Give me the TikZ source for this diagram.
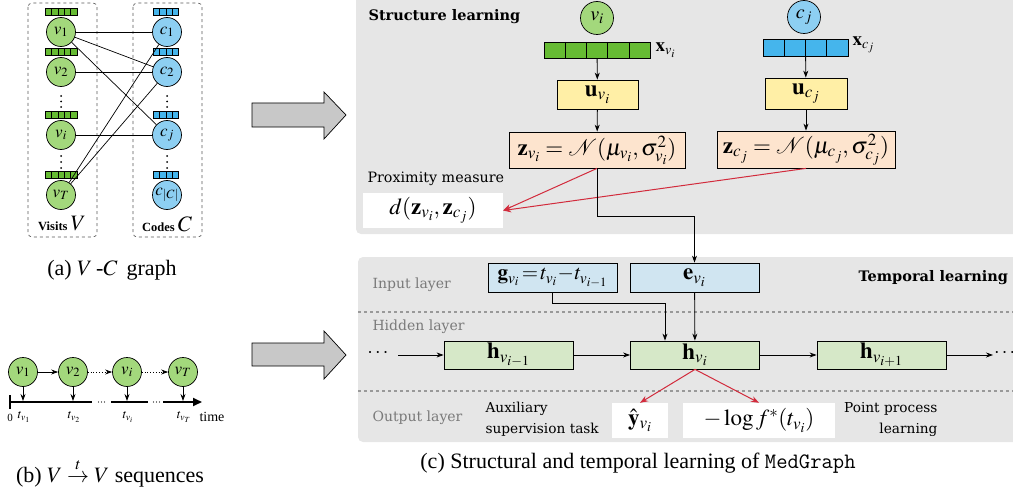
\documentclass[tikz,border=0pt]{standalone}
\usepackage{mathptmx}
\usepackage{fontspec}
\setmainfont{Liberation Serif}
\newfontfamily\dvs{DejaVu Serif}
\usetikzlibrary{arrows.meta}
\definecolor{vgreen}{HTML}{A3D87C}
\definecolor{bgreen}{HTML}{66BB33}
\definecolor{cblue}{HTML}{8DCFF2}
\definecolor{bblue}{HTML}{45B5EC}
\definecolor{panel}{HTML}{E6E6E6}
\definecolor{uyel}{HTML}{FFEFA6}
\definecolor{zpeach}{HTML}{FDE4CE}
\definecolor{inblue}{HTML}{D0E5F1}
\definecolor{hgreen}{HTML}{D6E8C8}
\definecolor{myred}{HTML}{D22B3C}
\definecolor{arrowgray}{HTML}{C8C8C8}
\definecolor{layergray}{HTML}{7A7A7A}
\newcommand\cellbar[7]{%
  \node[draw, line width=0.6pt, fill=#7, minimum width=#4pt, minimum height=#5pt, inner sep=0pt] (#1) at (#2,#3) {};
  \foreach \k in {1,...,#6}{\pgfmathsetmacro\xx{#2-#4/2+\k*#4/#6}\draw[line width=0.6pt] (\xx,#3-#5/2) -- (\xx,#3+#5/2);}
}
\tikzset{
  vnode/.style={circle, draw, line width=0.7pt, fill=vgreen, minimum size=29pt, inner sep=0pt, font=\fontsize{17}{20}\selectfont},
  cnode/.style={vnode, fill=cblue},
  mbox/.style={draw, line width=0.8pt, inner sep=0pt, font=\fontsize{23}{27}\selectfont},
  hbox/.style={mbox, fill=hgreen, minimum width=129pt, minimum height=28pt},
  conn/.style={-{Stealth[length=7pt,width=5pt]}, line width=0.8pt},
  redconn/.style={-{Stealth[length=8pt,width=6pt]}, myred, line width=1pt},
  layertext/.style={anchor=west, text=layergray, font=\dvs\fontsize{14}{16}\selectfont},
  plaintext/.style={font=\dvs\fontsize{13.7}{21}\selectfont},
  headline/.style={anchor=west, font=\dvs\bfseries\fontsize{14.5}{17}\selectfont},
  captext/.style={anchor=base, font=\fontsize{22}{26}\selectfont},
  bigarrow/.style={draw, fill=arrowgray, line width=0.7pt},
  dashbox/.style={draw=gray!70!black, dashed, rounded corners=4pt, line width=0.7pt},
  sepline/.style={draw=gray!80, dashed, line width=1.1pt},
  wbox/.style={fill=white, inner sep=0pt, font=\fontsize{23}{27}\selectfont}
}
\begin{document}
\begin{tikzpicture}[x=1pt,y=-1pt]
\useasboundingbox (0,0) rectangle (1013,495);
% ---------- panel (a)
\draw[dashbox] (28,3) rectangle (97,237);
\draw[dashbox] (133,3) rectangle (202,237);
\foreach \n/\y/\lab in {1/32/v_1, 2/72/v_2, i/135/v_i, T/195/v_T}{
  \node[vnode] (av\n) at (61,\y) {$\lab$};
  \cellbar{abv\n}{61}{\y-20}{32}{7}{5}{bgreen}
}
\foreach \n/\y/\lab in {1/32/c_1, 2/72/c_2, j/135/c_j, C/195/c_{|C|}}{
  \node[cnode] (ac\n) at (167,\y) {$\lab$};
  \cellbar{abc\n}{166}{\y-20}{25}{7}{4}{bblue}
}
\foreach \x in {61,167}{
  \foreach \y in {96,101.5,107,156,162,168}
    \fill (\x,\y) circle (1pt);
}
\foreach \a/\b in {v1/c1, v1/c2, v1/cj, v2/c2, vi/cj, vT/c1, vT/c2}
  \draw[line width=0.7pt] (a\a) -- (a\b);
\node (lv) at (62,224) {\fontsize{12.5}{14}\selectfont\textbf{Visits} \fontsize{22}{24}\selectfont$V$};
\node (lc) at (167,224) {\fontsize{12.5}{14}\selectfont\textbf{Codes} \fontsize{22}{24}\selectfont$C$};
\node[captext] (capa) at (112,275) {(a) $V$\,-$C$\, graph};
% ---------- panel (b)
\foreach \n/\x/\lab in {1/23/v_1, 2/73/v_2, i/127/v_i, T/183/v_T}{
  \node[vnode] (bv\n) at (\x,372) {$\lab$};
  \coordinate (tb\n) at (\x,401);
  \draw[conn] (bv\n) -- (tb\n);
}
\draw[conn] (bv1) -- (bv2);
\draw[conn, dotted] (bv2) -- (bvi);
\draw[conn, dotted] (bvi) -- (bvT);
\coordinate (tl0) at (10,402);
\coordinate (tl1) at (92,402);
\coordinate (tl2) at (111,402);
\coordinate (tl3) at (148,402);
\coordinate (tl4) at (163,402);
\coordinate (tl5) at (202,402);
\draw[line width=2pt] (tl0) -- (tl1);
\draw[line width=2pt] (tl2) -- (tl3);
\draw[line width=2pt, -{Triangle[length=9pt,width=8pt]}] (tl4) -- (tl5);
\draw[line width=1.2pt] (10,395) -- (10,409);
\foreach \x in {98.5,101.5,104.5,153.5,156.5,159.5}
  \fill (\x,402) circle (0.6pt);
\node[font=\fontsize{11}{13}\selectfont] (t0) at (10,418) {0};
\node[font=\fontsize{13}{15}\selectfont] (t1) at (24,417) {$t_{v_1}$};
\node[font=\fontsize{13}{15}\selectfont] (t2) at (74,417) {$t_{v_2}$};
\node[font=\fontsize{13}{15}\selectfont] (t3) at (128,417) {$t_{v_i}$};
\node[font=\fontsize{13}{15}\selectfont] (t4) at (184,417) {$t_{v_T}$};
\node[font=\fontsize{14}{16}\selectfont, anchor=west] (tt) at (196,417) {time};
\node[captext] (capb) at (110,482) {(b) $V \stackrel{t}{\rightarrow} V$ sequences};
% ---------- big arrows
\draw[bigarrow] (252,103) -- (324,103) -- (324,92) -- (346,115) -- (324,139) -- (324,127) -- (252,127) -- cycle;
\draw[bigarrow] (252,343) -- (324,343) -- (324,331) -- (346,355) -- (324,379) -- (324,366) -- (252,366) -- cycle;
% ---------- panel (c) backgrounds
\fill[panel, rounded corners=5pt] (356,-10) rectangle (1030,234);
\fill[panel, rounded corners=5pt] (358,257) rectangle (1030,442);
% structure learning
\node[headline] (stl) at (365,17) {Structure learning};
\node[vnode, minimum size=33pt, font=\fontsize{20}{24}\selectfont] (cv) at (597,18) {$v_i$};
\cellbar{xv}{597}{50}{106}{16}{5}{bgreen}
\node[anchor=west, font=\fontsize{19}{22}\selectfont] (xvl) at (652,50) {$\mathbf{x}_{v_i}$};
\node[mbox, fill=uyel, minimum width=81pt, minimum height=29pt] (uv) at (597.5,94.5) {$\mathbf{u}_{v_i}$};
\node[mbox, fill=zpeach, minimum width=176pt, minimum height=36pt] (zv) at (597,150) {$\mathbf{z}_{v_i} = \mathcal{N}(\mu_{v_i},\sigma^2_{v_i})$};
\draw[conn] (xv) -- (uv);
\draw[conn] (uv) -- (zv);
\node[cnode, minimum size=33pt, font=\fontsize{20}{24}\selectfont] (cc) at (804,17) {$c_j$};
\cellbar{xc}{805.5}{48}{85}{17}{4}{bblue}
\node[anchor=west, font=\fontsize{19}{22}\selectfont] (xcl) at (849,45) {$\mathbf{x}_{c_j}$};
\node[mbox, fill=uyel, minimum width=82pt, minimum height=31pt] (uc) at (806,93.5) {$\mathbf{u}_{c_j}$};
\node[mbox, fill=zpeach, minimum width=178pt, minimum height=37pt] (zc) at (806,149.5) {$\mathbf{z}_{c_j} = \mathcal{N}(\mu_{c_j},\sigma^2_{c_j})$};
\draw[conn] (xc) -- (uc);
\draw[conn] (uc) -- (zc);
\node[anchor=west, font=\dvs\fontsize{14.3}{17}\selectfont] (prox) at (364,179) {Proximity measure};
\node[wbox, minimum width=140pt, minimum height=35pt] (dz) at (433,210.5) {$d(\mathbf{z}_{v_i},\mathbf{z}_{c_j})$};
\draw[redconn] (zv.south) -- (dz.east);
\draw[redconn] (zc.south) -- (dz.east);
% temporal learning
\draw[sepline] (358,312) -- (1013,312);
\draw[sepline] (358,391) -- (1013,391);
\node[layertext] (il) at (369,285) {Input layer};
\node[layertext] (hl) at (369,327) {Hidden layer};
\node[layertext] (ol) at (369,418) {Output layer};
\node[mbox, fill=inblue, minimum width=129pt, minimum height=29pt, font=\fontsize{21}{25}\selectfont] (g) at (552.5,277.5) {$\mathbf{g}_{v_i}\!=\!t_{v_i}\!-\!t_{v_{i-1}}$};
\node[mbox, fill=inblue, minimum width=129pt, minimum height=29pt] (e) at (694.5,277.5) {$\mathbf{e}_{v_i}$};
\node[headline] (tpl) at (855,278) {Temporal learning};
\node[hbox] (hp) at (508.5,355) {$\mathbf{h}_{v_{i-1}}$};
\node[hbox] (hv) at (695,355) {$\mathbf{h}_{v_i}$};
\node[hbox] (hn) at (881.5,355) {$\mathbf{h}_{v_{i+1}}$};
\node[font=\fontsize{20}{24}\selectfont] (ld) at (378,353) {$\cdots$};
\node[font=\fontsize{20}{24}\selectfont, anchor=west, inner sep=0pt] (rd) at (994,353) {$\cdots$};
\coordinate (la) at (398,355);
\coordinate (ra) at (993,355);
\draw[conn] (la) -- (hp);
\draw[conn] (hp) -- (hv);
\draw[conn] (hv) -- (hn);
\draw[conn] (hn) -- (ra);
\draw[conn] (zv.south) -- ++(0,48) -| (e.north);
\draw[conn] (g.south) -- ++(0,11) -| ([xshift=-30pt]hv.north);
\draw[conn] (e) -- (hv);
\node[wbox, minimum width=56pt, minimum height=35pt] (yh) at (640,420.5) {$\hat{\mathbf{y}}_{v_i}$};
\node[wbox, minimum width=152pt, minimum height=35pt] (lf) at (759,420.5) {$-\log f^*(t_{v_i})$};
\draw[redconn] (hv.south) -- (yh.north);
\draw[redconn] (hv.south) -- (lf.north);
\node[plaintext, anchor=west, align=left] (aux) at (482,419) {Auxiliary\\supervision task};
\node[plaintext, anchor=east, align=right] (ppl) at (941,419) {Point process\\learning};
\node[captext] (capc) at (638,468) {(c) Structural and temporal learning of \texttt{MedGraph}};
\end{tikzpicture}
\end{document}
